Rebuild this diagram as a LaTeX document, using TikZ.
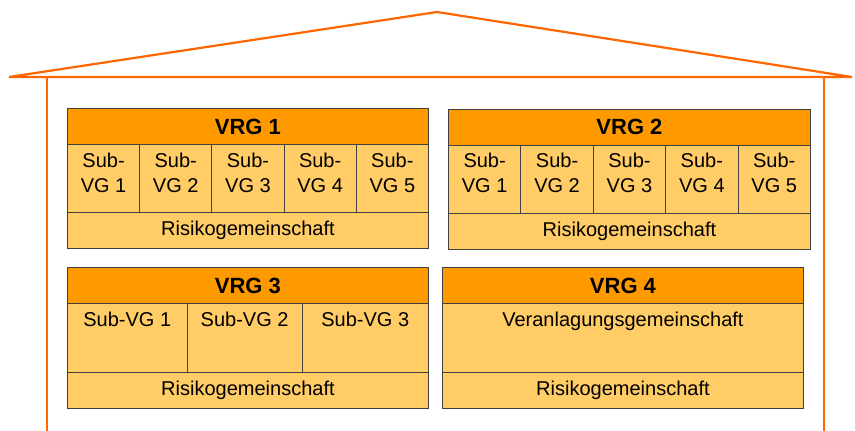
\documentclass[tikz,border=0pt]{standalone}
\usepackage{fontspec}
\setmainfont{Liberation Sans}
\usepackage{xcolor}
\usetikzlibrary{positioning}

\definecolor{houseline}{RGB}{255,102,0}
\definecolor{vrgorange}{RGB}{255,153,0}
\definecolor{cellfill}{RGB}{255,204,102}

\begin{document}
\begin{tikzpicture}[x=1pt, y=-1pt,
  house/.style={houseline, line width=2.2pt},
  box/.style={rectangle, draw=black!75, line width=0.9pt, anchor=north west, inner sep=0pt},
  vrghead/.style={box, fill=vrgorange, minimum height=36pt, font=\fontsize{22}{26}\selectfont\bfseries},
  subcell/.style={box, fill=cellfill, minimum height=68pt},
  risiko/.style={box, fill=cellfill, minimum height=36pt, font=\fontsize{20}{24}\selectfont},
  subtext/.style={align=center, yshift=6pt, inner sep=0pt, font=\fontsize{20}{25}\selectfont},
  toptext/.style={anchor=north, yshift=-9pt, inner sep=0pt, font=\fontsize{20}{24}\selectfont}
]
\useasboundingbox (0,0) rectangle (855,431);

% House
\draw[house] (9,77) -- (437,12) -- (852,77) -- cycle;
\draw[house] (47,77) -- (47,435);
\draw[house] (824,77) -- (824,435);

% VRG 1
\node[vrghead, minimum width=361pt] (vrg1) at (67,108) {VRG 1};
\foreach \i in {1,...,5}
  \node[subcell, minimum width=72.2pt, label={[subtext]center:{Sub-\\VG \i}}] (v1s\i) at ({67+72.2*(\i-1)},144) {};
\node[risiko, minimum width=361pt] (risk1) at (67,212) {Risikogemeinschaft};

% VRG 2
\node[vrghead, minimum width=362pt] (vrg2) at (448,108.5) {VRG 2};
\foreach \i in {1,...,5}
  \node[subcell, minimum width=72.4pt, label={[subtext]center:{Sub-\\VG \i}}] (v2s\i) at ({448+72.4*(\i-1)},144.5) {};
\node[risiko, minimum width=362pt] (risk2) at (448,212.5) {Risikogemeinschaft};

% VRG 3
\node[vrghead, minimum width=361pt] (vrg3) at (67,267) {VRG 3};
\node[subcell, minimum width=119.7pt, minimum height=69pt, label={[toptext]north:Sub-VG 1}] (v3s1) at (67,303) {};
\node[subcell, minimum width=115pt, minimum height=69pt, label={[toptext]north:Sub-VG 2}] (v3s2) at (186.7,303) {};
\node[subcell, minimum width=126.3pt, minimum height=69pt, label={[toptext]north:Sub-VG 3}] (v3s3) at (301.7,303) {};
\node[risiko, minimum width=361pt, minimum height=35.5pt] (risk3) at (67,372) {Risikogemeinschaft};

% VRG 4
\node[vrghead, minimum width=361pt] (vrg4) at (442,267) {VRG 4};
\node[subcell, minimum width=361pt, minimum height=69pt, label={[toptext]north:Veranlagungsgemeinschaft}] (v4va) at (442,303) {};
\node[risiko, minimum width=361pt, minimum height=35.5pt] (risk4) at (442,372) {Risikogemeinschaft};

\end{tikzpicture}
\end{document}
